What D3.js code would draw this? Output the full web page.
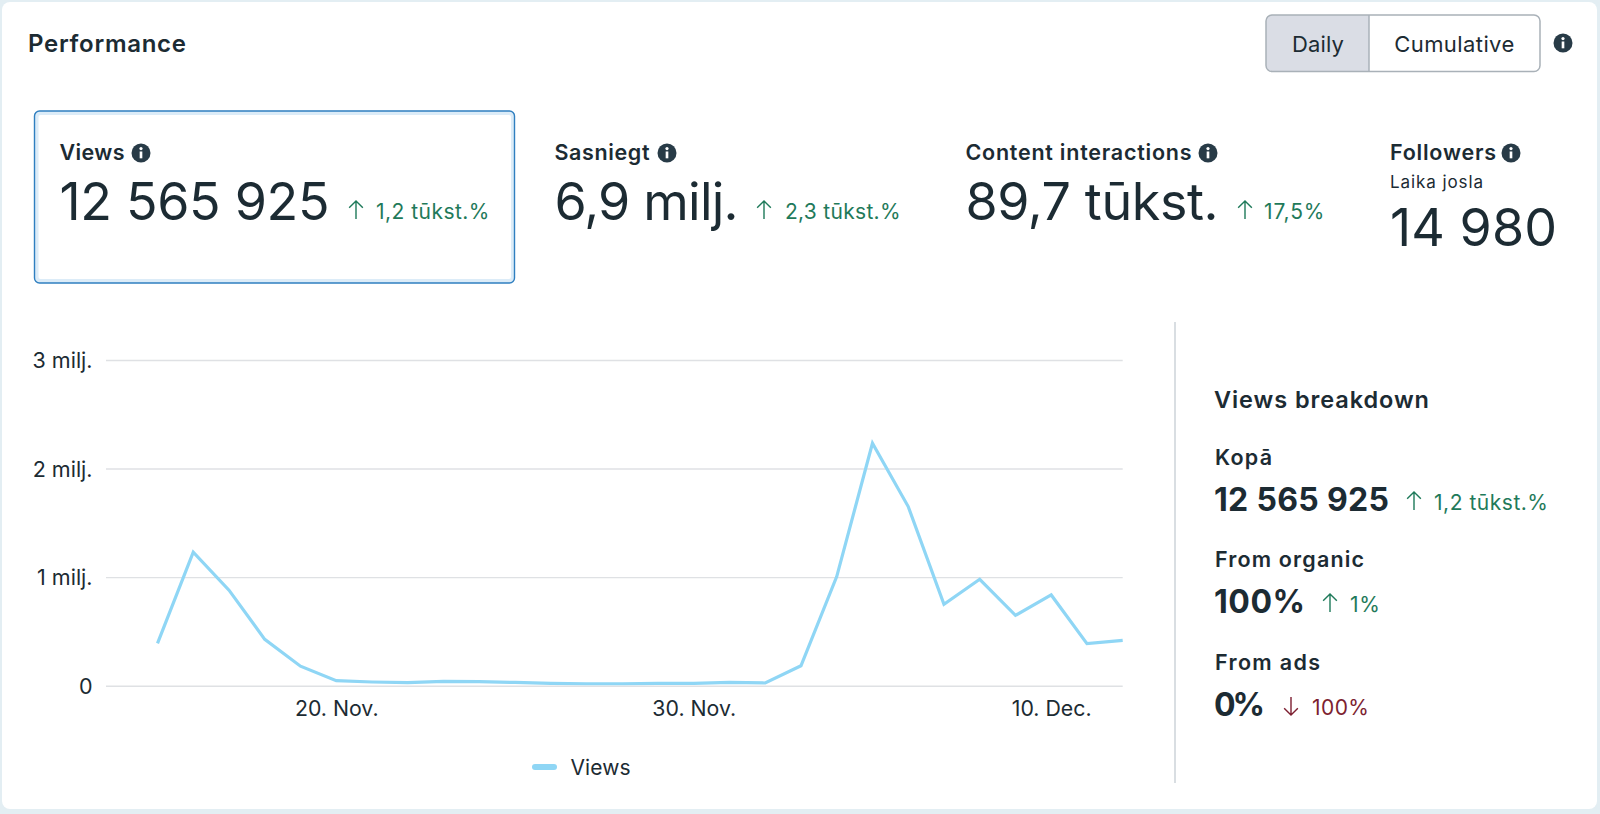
<!DOCTYPE html>
<html><head><meta charset="utf-8">
<script src="https://cdn.jsdelivr.net/npm/d3@7/dist/d3.min.js"></script>
<style>html,body{margin:0;padding:0;background:#e3eef3;overflow:hidden}svg{display:block}text{font-family:Inter,"Noto Sans",sans-serif}</style>
</head><body><svg id="c" width="1600" height="814"></svg>
<script>
const dates=["2024-11-15","2024-11-16","2024-11-17","2024-11-18","2024-11-19","2024-11-20","2024-11-21","2024-11-22","2024-11-23","2024-11-24","2024-11-25","2024-11-26","2024-11-27","2024-11-28","2024-11-29","2024-11-30","2024-12-01","2024-12-02","2024-12-03","2024-12-04","2024-12-05","2024-12-06","2024-12-07","2024-12-08","2024-12-09","2024-12-10","2024-12-11","2024-12-12"];
const viewsValues=[390000,1230000,880000,427000,180000,46000,34000,28000,40000,37000,30000,22000,18000,18000,21000,22000,30000,25000,184000,1005000,2233000,1650000,750000,980000,648000,836000,387000,418000];
const yTickValues=[0,1000000,2000000,3000000];
const yTickLabels=["0","1 milj.","2 milj.","3 milj."];
const xTickDates=["2024-11-20","2024-11-30","2024-12-10"];
const xTickLabels=["20. Nov.","30. Nov.","10. Dec."];
const seriesName="Views";
const kpiLabels=["Views","Sasniegt","Content interactions","Followers"];
const kpiValues=["12 565 925","6,9 milj.","89,7 tūkst.","14 980"];
const kpiChanges=["1,2 tūkst.%","2,3 tūkst.%","17,5%",null];
const breakdownLabels=["Kopā","From organic","From ads"];
const breakdownValues=["12 565 925","100%","0%"];
const breakdownChanges=["1,2 tūkst.%","1%","100%"];
const breakdownUp=[true,true,false];

const INK="#1c2b33",GREEN="#1f7a5a",RED="#7d1f31",LINE="#8fd6f5",GRID="#dfe1e4";
const svg=d3.select("#c");
svg.append("rect").attr("x",2).attr("y",2).attr("width",1595).attr("height",807).attr("rx",8).attr("fill","#fff");

function T(x,y,s,size,weight,fill,w,anchor){
  const t=svg.append("text").attr("x",x).attr("y",y).attr("font-size",size).attr("font-weight",weight).attr("fill",fill).attr("text-anchor",anchor||"start").text(s);
  if(w){const L=t.node().getComputedTextLength();t.attr("letter-spacing",(w-L)/Math.max(1,s.length-1));}
  return t;
}
function info(cx,cy,r){
  const g=svg.append("g").attr("transform",`translate(${cx},${cy})`);
  g.append("circle").attr("r",r).attr("fill","#283b47");
  g.append("circle").attr("cy",-r*.47).attr("r",r*.17).attr("fill","#fff");
  g.append("rect").attr("x",-r*.14).attr("y",-r*.16).attr("width",r*.28).attr("height",r*.72).attr("fill","#fff");
}
function arrow(cx,base,h,up,color){
  const top=base-h,s=h*.38;
  const d=up?`M${cx},${base}V${top}M${cx-s},${top+s}L${cx},${top}L${cx+s},${top+s}`:`M${cx},${top}V${base}M${cx-s},${base-s}L${cx},${base}L${cx+s},${base-s}`;
  svg.append("path").attr("d",d).attr("fill","none").attr("stroke",color).attr("stroke-width",1.4);
}

// header
T(28,52,"Performance",24,600,INK,158);
svg.append("path").attr("d","M1369,15H1272a6,6 0 0 0 -6,6V65a6,6 0 0 0 6,6H1369Z").attr("fill","#dadde5");
svg.append("rect").attr("x",1266).attr("y",15).attr("width",274).attr("height",56.5).attr("rx",6).attr("fill","none").attr("stroke","#a9b1b8").attr("stroke-width",1.5);
svg.append("line").attr("x1",1369).attr("x2",1369).attr("y1",15).attr("y2",71).attr("stroke","#a9b1b8").attr("stroke-width",1.5);
T(1318,52,"Daily",22,400,INK,52,"middle");
T(1454.5,52,"Cumulative",22,400,INK,120,"middle");
info(1563,43,9.5);

// KPI tiles
svg.append("rect").attr("x",36.5).attr("y",113).attr("width",476.5).attr("height",168).attr("rx",4).attr("fill","none").attr("stroke","#dcecf8").attr("stroke-width",4);
svg.append("rect").attr("x",34.5).attr("y",111).attr("width",480).attr("height",172).attr("rx",5).attr("fill","none").attr("stroke","#2f7fc0").attr("stroke-width",1.4);
const kx=[59.5,554.5,965.5,1390],ix=[141,667,1208,1511],lw=[65,95,226,106],vw=[270,184,253,167],ax=[356,764,1245],cx=[376,785,1264],cw=[113.5,115.5,60.5];
kpiLabels.forEach((s,i)=>{
  T(kx[i],160,s,21.5,600,INK,lw[i]);
  info(ix[i],153,9.5);
  T(kx[i],i<3?220:246,kpiValues[i],52,400,INK,vw[i]);
  if(kpiChanges[i]){arrow(ax[i],219,18,true,GREEN);T(cx[i],219,kpiChanges[i],21,400,GREEN,cw[i]);}
});
T(1390,188,"Laika josla",17,400,INK,93);

// chart
const x=d3.scaleTime().domain([new Date(dates[0]),new Date(dates[dates.length-1])]).range([157.5,1122.7]);
const y=d3.scaleLinear().domain([0,3000000]).range([685.7,360]);
const parsed=dates.map(d=>new Date(d));
const gridG=svg.append("g").attr("transform","translate(106,0)").call(d3.axisLeft(y).tickValues(yTickValues).tickSize(-1016.7).tickPadding(13.5).tickFormat((d,i)=>yTickLabels[i]));
gridG.select(".domain").remove();
gridG.selectAll(".tick line").attr("stroke",GRID).attr("stroke-width",1.4);
gridG.selectAll("text").attr("font-size",21.5).attr("fill",INK).attr("font-family","Inter").attr("dy","0.36em");
const xG=svg.append("g").attr("transform","translate(0,685.7)").call(d3.axisBottom(x).tickValues(xTickDates.map(d=>new Date(d))).tickSize(0).tickPadding(15).tickFormat((d,i)=>xTickLabels[i]));
xG.select(".domain").remove();
xG.selectAll("text").attr("font-size",21.3).attr("fill",INK).attr("font-family","Inter");
svg.append("path").datum(viewsValues).attr("fill","none").attr("stroke",LINE).attr("stroke-width",3.2)
  .attr("stroke-linejoin","miter").attr("d",d3.line().x((d,i)=>x(parsed[i])).y(d=>y(d)));
svg.append("rect").attr("x",532).attr("y",764).attr("width",25).attr("height",6).attr("rx",3).attr("fill",LINE);
T(570.5,775,seriesName,21,400,INK,60);

// breakdown
svg.append("line").attr("x1",1175).attr("x2",1175).attr("y1",322).attr("y2",783).attr("stroke","#ccd3d8").attr("stroke-width",1.5);
T(1214,408,"Views breakdown",23.5,600,INK,215);
const by=[465,567,670],blw=[57,149,105],bv=[511,613,716],bw=[175,91,51],bax=[1414,1330,1291],bcx=[1434,1350,1312],bcw=[114,30,57];
breakdownLabels.forEach((s,i)=>{
  T(1215,by[i],s,21.5,600,INK,blw[i]);
  T(1214,bv[i],breakdownValues[i],32,700,INK,bw[i]);
  const c=breakdownUp[i]?GREEN:RED;
  arrow(bax[i],bv[i]-1,18,breakdownUp[i],c);
  T(bcx[i],bv[i]-1,breakdownChanges[i],21,400,c,bcw[i]);
});
</script></body></html>
